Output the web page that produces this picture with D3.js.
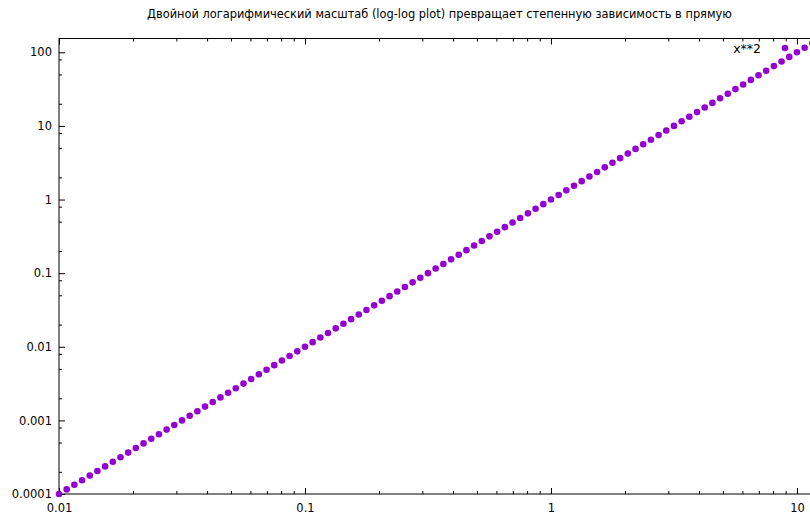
<!DOCTYPE html>
<html>
<head>
<meta charset="utf-8">
<script src="https://cdn.jsdelivr.net/npm/d3@7"></script>
<style>
  body { margin: 0; background: #fff; }
  svg { display: block; }
</style>
</head>
<body>
<div id="chart"></div>
<script>
///////////////////////////////////////////////
// Data ///////////////////////////////////////
///////////////////////////////////////////////

var titleText = "Двойной логарифмический масштаб (log-log plot) превращает степенную зависимость в прямую";
var seriesName = "x**2";

// sample points of the curve (x, y), 100 samples
var xValues = [
  0.01, 0.010746, 0.011548, 0.012409, 0.013335, 0.01433, 0.015399, 0.016548,
  0.017783, 0.01911, 0.020535, 0.022067, 0.023714, 0.025483, 0.027384, 0.029427,
  0.031623, 0.033982, 0.036517, 0.039242, 0.04217, 0.045316, 0.048697, 0.05233,
  0.056234, 0.06043, 0.064938, 0.069783, 0.074989, 0.080584, 0.086596, 0.093057,
  0.1, 0.10746, 0.11548, 0.12409, 0.13335, 0.1433, 0.15399, 0.16548,
  0.17783, 0.1911, 0.20535, 0.22067, 0.23714, 0.25483, 0.27384, 0.29427,
  0.31623, 0.33982, 0.36517, 0.39242, 0.4217, 0.45316, 0.48697, 0.5233,
  0.56234, 0.6043, 0.64938, 0.69783, 0.74989, 0.80584, 0.86596, 0.93057,
  1, 1.0746, 1.1548, 1.2409, 1.3335, 1.433, 1.5399, 1.6548,
  1.7783, 1.911, 2.0535, 2.2067, 2.3714, 2.5483, 2.7384, 2.9427,
  3.1623, 3.3982, 3.6517, 3.9242, 4.217, 4.5316, 4.8697, 5.233,
  5.6234, 6.043, 6.4938, 6.9783, 7.4989, 8.0584, 8.6596, 9.3057,
  10, 10.746, 11.548, 12.409
];

var yValues = [
  0.0001, 0.00011548, 0.00013335, 0.00015399, 0.00017783, 0.00020535, 0.00023714, 0.00027384,
  0.00031623, 0.00036517, 0.0004217, 0.00048697, 0.00056234, 0.00064938, 0.00074989, 0.00086596,
  0.001, 0.0011548, 0.0013335, 0.0015399, 0.0017783, 0.0020535, 0.0023714, 0.0027384,
  0.0031623, 0.0036517, 0.004217, 0.0048697, 0.0056234, 0.0064938, 0.0074989, 0.0086596,
  0.01, 0.011548, 0.013335, 0.015399, 0.017783, 0.020535, 0.023714, 0.027384,
  0.031623, 0.036517, 0.04217, 0.048697, 0.056234, 0.064938, 0.074989, 0.086596,
  0.1, 0.11548, 0.13335, 0.15399, 0.17783, 0.20535, 0.23714, 0.27384,
  0.31623, 0.36517, 0.4217, 0.48697, 0.56234, 0.64938, 0.74989, 0.86596,
  1, 1.1548, 1.3335, 1.5399, 1.7783, 2.0535, 2.3714, 2.7384,
  3.1623, 3.6517, 4.217, 4.8697, 5.6234, 6.4938, 7.4989, 8.6596,
  10, 11.548, 13.335, 15.399, 17.783, 20.535, 23.714, 27.384,
  31.623, 36.517, 42.17, 48.697, 56.234, 64.938, 74.989, 86.596,
  100, 115.48, 133.35, 153.99
];

// tick values and labels
var xTicks = [0.01, 0.1, 1, 10];
var xTickLabels = ["0.01", "0.1", "1", "10"];
var xMinorTicks = [0.02, 0.03, 0.04, 0.05, 0.06, 0.07, 0.08, 0.09,
                   0.2, 0.3, 0.4, 0.5, 0.6, 0.7, 0.8, 0.9,
                   2, 3, 4, 5, 6, 7, 8, 9];
var yTicks = [0.0001, 0.001, 0.01, 0.1, 1, 10, 100];
var yTickLabels = ["0.0001", "0.001", "0.01", "0.1", "1", "10", "100"];
var yMinorTicks = [0.0002, 0.0005, 0.0008, 0.002, 0.005, 0.008, 0.02, 0.05, 0.08,
                   0.2, 0.5, 0.8, 2, 5, 8, 20, 50, 80];

var data = xValues.map(function(d, i) { return { x: d, y: yValues[i] }; });

///////////////////////////////////////////////
// Graph parameters ///////////////////////////
///////////////////////////////////////////////

var W = 810, H = 517;
var plot = { left: 59, right: 820, top: 38.5, bottom: 494 };
var color = "#9400d3";
var font = "'DejaVu Sans', sans-serif";

var svg = d3.select("#chart").append("svg")
    .attr("width", W)
    .attr("height", H);

svg.append("rect").attr("width", W).attr("height", H).attr("fill", "#fff");

///////////////////////////////////////////////
// Scales /////////////////////////////////////
///////////////////////////////////////////////

var x = d3.scaleLog()
    .domain([xValues[0], xValues[xValues.length - 1]])
    .range([plot.left, plot.right]);

var y = d3.scaleLog()
    .domain([yValues[0], yValues[yValues.length - 1]])
    .range([plot.bottom, plot.top]);

///////////////////////////////////////////////
// Axes ///////////////////////////////////////
///////////////////////////////////////////////

function styleAxis(g) {
  g.select(".domain").remove();
  g.selectAll(".tick line").attr("stroke", "#000").attr("stroke-width", 1);
  g.selectAll(".tick text")
    .style("font-family", font)
    .style("font-size", "11.5px")
    .attr("fill", "#000");
}

// bottom
svg.append("g")
  .attr("transform", "translate(0," + plot.bottom + ")")
  .call(d3.axisBottom(x).tickValues(xTicks).tickSize(-6).tickPadding(10)
        .tickFormat(function(d, i) { return xTickLabels[i]; }))
  .call(styleAxis);
svg.append("g")
  .attr("transform", "translate(0," + plot.bottom + ")")
  .call(d3.axisBottom(x).tickValues(xMinorTicks).tickSize(-3).tickFormat(""))
  .call(styleAxis);

// top
svg.append("g")
  .attr("transform", "translate(0," + plot.top + ")")
  .call(d3.axisTop(x).tickValues(xTicks).tickSize(-6).tickFormat(""))
  .call(styleAxis);
svg.append("g")
  .attr("transform", "translate(0," + plot.top + ")")
  .call(d3.axisTop(x).tickValues(xMinorTicks).tickSize(-3).tickFormat(""))
  .call(styleAxis);

// left
svg.append("g")
  .attr("transform", "translate(" + plot.left + ",0)")
  .call(d3.axisLeft(y).tickValues(yTicks).tickSize(-6).tickPadding(7)
        .tickFormat(function(d, i) { return yTickLabels[i]; }))
  .call(styleAxis);
svg.append("g")
  .attr("transform", "translate(" + plot.left + ",0)")
  .call(d3.axisLeft(y).tickValues(yMinorTicks).tickSize(-3).tickFormat(""))
  .call(styleAxis);

// frame
svg.append("rect")
  .attr("x", plot.left)
  .attr("y", plot.top)
  .attr("width", plot.right - plot.left)
  .attr("height", plot.bottom - plot.top)
  .attr("fill", "none")
  .attr("stroke", "#000")
  .attr("stroke-width", 1);

///////////////////////////////////////////////
// Points /////////////////////////////////////
///////////////////////////////////////////////

svg.append("g")
  .selectAll("circle")
  .data(data)
  .enter().append("circle")
    .attr("cx", function(d) { return x(d.x); })
    .attr("cy", function(d) { return y(d.y); })
    .attr("r", 3.3)
    .attr("fill", color);

///////////////////////////////////////////////
// Title and legend ///////////////////////////
///////////////////////////////////////////////

svg.append("text")
  .attr("x", (plot.left + plot.right) / 2)
  .attr("y", 18)
  .attr("text-anchor", "middle")
  .style("font-family", font)
  .style("font-size", "11.4px")
  .text(titleText);

svg.append("text")
  .attr("x", 761)
  .attr("y", 53)
  .attr("text-anchor", "end")
  .style("font-family", font)
  .style("font-size", "12.5px")
  .text(seriesName);

svg.append("circle")
  .attr("cx", 785)
  .attr("cy", 48)
  .attr("r", 3.3)
  .attr("fill", color);
</script>
</body>
</html>
